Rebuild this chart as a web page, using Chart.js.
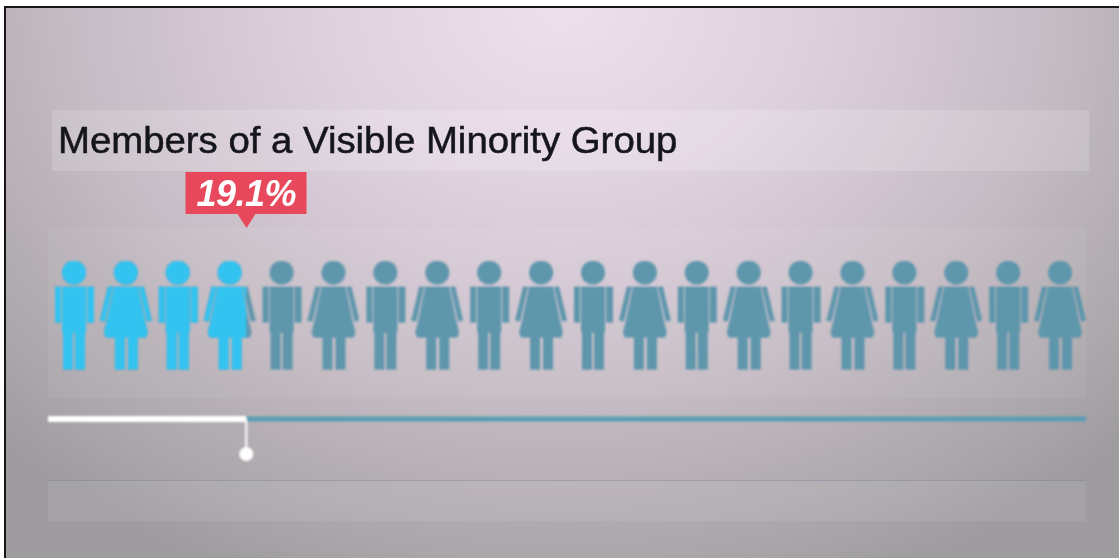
<!DOCTYPE html>
<html>
<head>
<meta charset="utf-8">
<title>Members of a Visible Minority Group</title>
<script src="https://cdn.jsdelivr.net/npm/chart.js@4"></script>
<style>
  html, body { margin: 0; padding: 0; background: #fff; }
  .stage {
    position: relative;
    width: 1119px;
    height: 558px;
    overflow: hidden;
  }
  .screen {
    position: absolute;
    left: 4px;
    top: 6px;
    right: 0;
    bottom: 0;
    border-left: 2px solid #17151a;
    border-top: 2px solid #17151a;
    background: radial-gradient(ellipse 780px 620px at 50% 0%, #eee1ee 0%, #dfd2df 30%, #c6bcc5 62%, #aba7ab 88%, #9f9ca0 100%);
  }
  .band { position: absolute; background: rgba(255, 255, 255, 0.05); }
  .title-band {
    left: 52px; top: 110px; width: 1037px; height: 61px;
    background: rgba(255, 255, 255, 0.16);
  }
  .title {
    position: absolute;
    left: 58px;
    top: 121px;
    font: 36px "Liberation Sans", Arial, sans-serif;
    line-height: 40px;
    color: #15151c;
    white-space: nowrap;
    transform-origin: left center;
    transform: scaleX(1.065);
    -webkit-text-stroke: 0.5px #15151c;
    filter: blur(0.6px);
  }
  .row-band { left: 48px; top: 228px; width: 1038px; height: 170px; }
  .foot-band {
    left: 48px; top: 480px; width: 1038px; height: 40px;
    border-top: 1px solid rgba(110, 125, 145, 0.4);
    background: rgba(255, 255, 255, 0.07);
  }
  .callout {
    position: absolute;
    top: 172px;
    width: 121px;
    height: 42px;
    background: #e8485b;
    color: #fff;
    font: italic bold 36px "Liberation Sans", Arial, sans-serif;
    line-height: 44px;
    text-align: center;
    letter-spacing: -0.5px;
    transform: translateX(-50%);
    filter: blur(0.6px);
  }
  .callout::after {
    content: "";
    position: absolute;
    left: 50%;
    top: 42px;
    margin-left: -9px;
    border-left: 9px solid transparent;
    border-right: 9px solid transparent;
    border-top: 14px solid #e8485b;
  }
  .chart-box { position: absolute; left: 0; top: 0; width: 1119px; height: 558px; filter: blur(1px); }
</style>
</head>
<body>
<div class="stage">
  <div class="screen"></div>
  <div class="band title-band"></div>
  <div class="band row-band"></div>
  <div class="band foot-band"></div>
  <div class="title">Members of a Visible Minority Group</div>
  <div class="chart-box"><canvas id="myChart"></canvas></div>
  <div class="callout" id="callout"></div>
</div>
<script>
// values
const share = 19.1;
const people = [
  "man", "woman", "man", "woman", "man", "woman", "man", "woman", "man", "woman",
  "man", "woman", "man", "woman", "man", "woman", "man", "woman", "man", "woman",
];
const peopleAt = [
  2.5, 7.5, 12.5, 17.5, 22.5, 27.5, 32.5, 37.5, 42.5, 47.5,
  52.5, 57.5, 62.5, 67.5, 72.5, 77.5, 82.5, 87.5, 92.5, 97.5,
];
const axisEnds = [0, 100];

// rows on the hidden y axis
const peopleRow = 30;
const barRow = 65.4;
const dotRow = 77.4;

const baseColor = "#5e96ac";
const highlightColor = "#33c3f0";

function poly(g, pts) {
  g.beginPath();
  pts.forEach((p, i) => (i ? g.lineTo(p[0], p[1]) : g.moveTo(p[0], p[1])));
  g.closePath();
  g.fill();
}

function makeIcon(kind, color) {
  const c = document.createElement("canvas");
  c.width = 52;
  c.height = 110;
  const g = c.getContext("2d");
  g.fillStyle = color;
  g.beginPath();
  g.arc(26, 12, 12, 0, Math.PI * 2);
  g.fill();
  if (kind === "man") {
    g.fillRect(14, 26, 24, 46);
    g.fillRect(7, 26, 6, 36);
    g.fillRect(39, 26, 7, 36);
    g.fillRect(15, 70, 10, 39);
    g.fillRect(27, 70, 10, 39);
  } else {
    poly(g, [[14, 26], [38, 26], [45, 60], [48, 72], [46, 77], [6, 77], [4, 72], [7, 60]]);
    poly(g, [[8, 26], [13, 26], [5, 61], [0, 60]]);
    poly(g, [[39, 26], [44, 26], [52, 60], [47, 61]]);
    g.fillRect(15, 76, 10, 33);
    g.fillRect(28, 76, 10, 33);
  }
  return c;
}

const rowPoints = peopleAt.map((x) => ({ x: x, y: peopleRow }));
const baseIcons = people.map((p) => makeIcon(p, baseColor));
const highlightIcons = people.map((p) => makeIcon(p, highlightColor));

// only the share of the row is painted in the highlight colour
const shareClip = {
  id: "shareClip",
  beforeDatasetDraw(chart, args) {
    if (args.index !== 1) return;
    const a = chart.chartArea;
    const right = chart.scales.x.getPixelForValue(share);
    chart.ctx.save();
    chart.ctx.beginPath();
    chart.ctx.rect(a.left, a.top, right - a.left, a.bottom - a.top);
    chart.ctx.clip();
  },
  afterDatasetDraw(chart, args) {
    if (args.index === 1) chart.ctx.restore();
  },
};

const ctx = document.getElementById("myChart");

const chart = new Chart(ctx, {
  type: "scatter",
  data: {
    datasets: [
      {
        label: "All residents",
        data: rowPoints,
        pointStyle: baseIcons,
        order: 5,
      },
      {
        label: "Visible minority",
        data: rowPoints,
        pointStyle: highlightIcons,
        order: 4,
      },
      {
        label: "Rest",
        data: [{ x: share, y: barRow }, { x: axisEnds[1], y: barRow }],
        showLine: true,
        borderColor: "#5b9db5",
        borderWidth: 5,
        pointRadius: 0,
        order: 3,
      },
      {
        label: "Share",
        data: [{ x: axisEnds[0], y: barRow }, { x: share, y: barRow }],
        showLine: true,
        borderColor: "#ffffff",
        borderWidth: 6,
        pointRadius: 0,
        clip: false,
        order: 2,
      },
      {
        label: "Marker",
        data: [{ x: share, y: barRow }, { x: share, y: dotRow }],
        showLine: true,
        borderColor: "#ffffff",
        borderWidth: 2,
        backgroundColor: "#ffffff",
        pointBorderWidth: 0,
        pointRadius: [0, 7],
        order: 1,
      },
    ],
  },
  options: {
    responsive: true,
    maintainAspectRatio: false,
    animation: false,
    layout: { padding: { left: 48, right: 33, top: 228, bottom: 38 } },
    scales: {
      x: { type: "linear", min: axisEnds[0], max: axisEnds[1], display: false },
      y: { type: "linear", min: 0, max: 100, reverse: true, display: false },
    },
    plugins: {
      legend: { display: false },
      title: { display: false },
      tooltip: { enabled: false },
    },
  },
  plugins: [shareClip],
});

const callout = document.getElementById("callout");
callout.textContent = share + "%";
callout.style.left = chart.scales.x.getPixelForValue(share) + "px";
</script>
</body>
</html>
